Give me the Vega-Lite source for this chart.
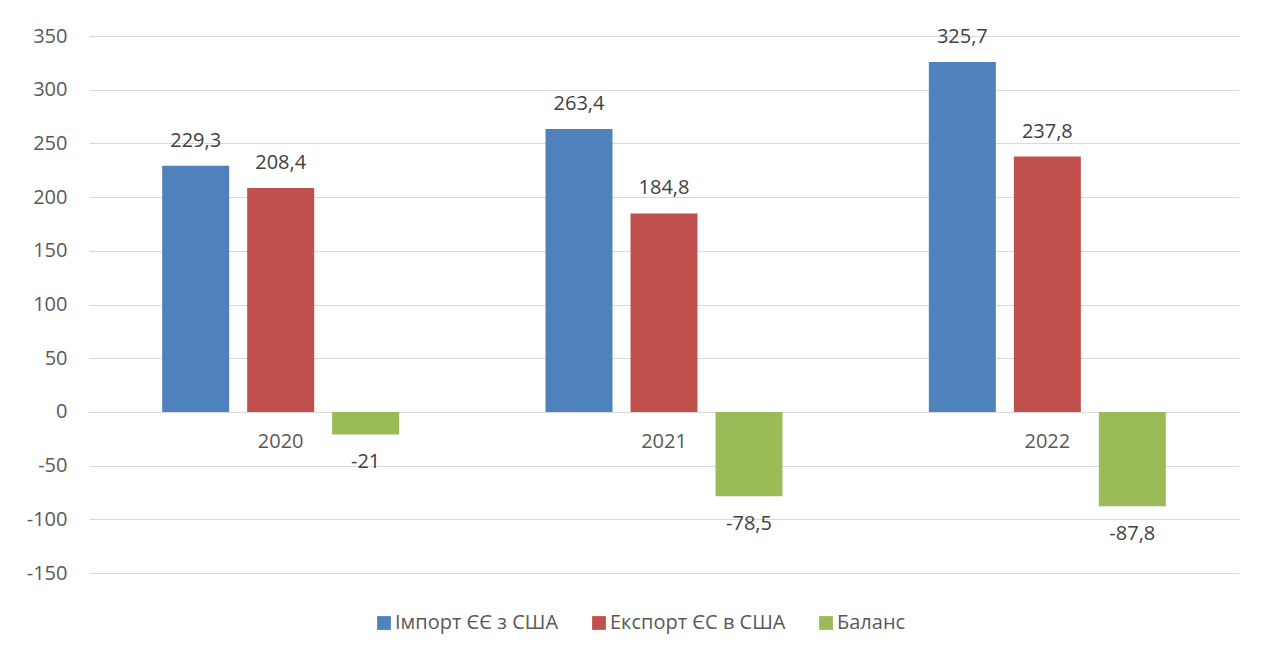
{
  "$schema": "https://vega.github.io/schema/vega-lite/v6.json",
  "width": 1150,
  "height": 537,
  "autosize": {"type": "none"},
  "padding": {"left": 89, "top": 36, "right": 28, "bottom": 84},
  "background": "white",
  "config": {
    "font": "Open Sans",
    "view": {"stroke": null},
    "locale": {"number": {"decimal": ",", "thousands": " ", "grouping": [3], "currency": ["", ""], "minus": "-"}}
  },
  "data": {
    "values": [
      {"year": "2020", "series": "Імпорт ЄЄ з США", "value": 229.3},
      {"year": "2020", "series": "Експорт ЄС в США", "value": 208.4},
      {"year": "2020", "series": "Баланс", "value": -21},
      {"year": "2021", "series": "Імпорт ЄЄ з США", "value": 263.4},
      {"year": "2021", "series": "Експорт ЄС в США", "value": 184.8},
      {"year": "2021", "series": "Баланс", "value": -78.5},
      {"year": "2022", "series": "Імпорт ЄЄ з США", "value": 325.7},
      {"year": "2022", "series": "Експорт ЄС в США", "value": 237.8},
      {"year": "2022", "series": "Баланс", "value": -87.8}
    ]
  },
  "encoding": {
    "x": {
      "field": "year",
      "type": "nominal",
      "title": null,
      "scale": {"paddingInner": 0, "paddingOuter": 0},
      "axis": {
        "labelAngle": 0,
        "offset": -161,
        "ticks": false,
        "domainColor": "#d9d9d9",
        "domainWidth": 1,
        "labelFontSize": 20,
        "labelColor": "#595959",
        "labelPadding": 19
      }
    },
    "xOffset": {
      "field": "series",
      "type": "nominal",
      "sort": ["Імпорт ЄЄ з США", "Експорт ЄС в США", "Баланс"],
      "scale": {"paddingInner": 0.2118, "paddingOuter": 0.861}
    },
    "y": {
      "field": "value",
      "type": "quantitative",
      "title": null,
      "scale": {"domain": [-150, 350], "nice": false, "zero": false},
      "axis": {
        "values": [-150, -100, -50, 0, 50, 100, 150, 200, 250, 300, 350],
        "domain": false,
        "ticks": false,
        "gridColor": "#d9d9d9",
        "gridWidth": 1,
        "labelFontSize": 20,
        "labelColor": "#595959",
        "labelPadding": 22
      }
    }
  },
  "layer": [
    {
      "mark": {"type": "bar"},
      "encoding": {
        "color": {
          "field": "series",
          "type": "nominal",
          "sort": ["Імпорт ЄЄ з США", "Експорт ЄС в США", "Баланс"],
          "scale": {
            "domain": ["Імпорт ЄЄ з США", "Експорт ЄС в США", "Баланс"],
            "range": ["#4f81bd", "#c0504d", "#9bbb59"]
          },
          "legend": {
            "orient": "none",
            "legendX": 285,
            "legendY": 577,
            "direction": "horizontal",
            "title": null,
            "symbolType": "square",
            "symbolSize": 190,
            "symbolStrokeWidth": 0,
            "labelFontSize": 20,
            "labelColor": "#595959",
            "labelOffset": 1,
            "labelLimit": 0,
            "columnPadding": 30
          }
        }
      }
    },
    {
      "transform": [{"filter": "datum.value >= 0"}],
      "mark": {"type": "text", "baseline": "middle", "dy": -25, "fontSize": 20, "color": "#404040"},
      "encoding": {"text": {"field": "value", "type": "quantitative", "format": ".1~f"}}
    },
    {
      "transform": [{"filter": "datum.value < 0"}],
      "mark": {"type": "text", "baseline": "middle", "dy": 28, "fontSize": 20, "color": "#404040"},
      "encoding": {"text": {"field": "value", "type": "quantitative", "format": ".1~f"}}
    }
  ]
}
